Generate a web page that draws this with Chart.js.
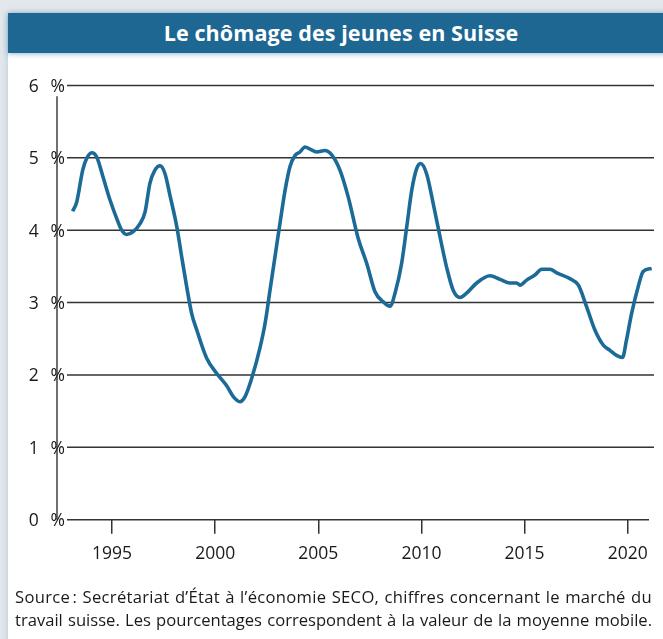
<!DOCTYPE html>
<html>
<head>
<meta charset="utf-8">
<script src="https://cdn.jsdelivr.net/npm/chart.js@4/dist/chart.umd.min.js"></script>
<style>
  html, body { margin: 0; padding: 0; }
  body { width: 663px; height: 639px; background: #e3e8ec; position: relative; overflow: hidden; font-family: "Open Sans", sans-serif; }
  #panel { position: absolute; left: 8px; top: 13px; width: 660px; height: 640px; background: #ffffff; box-shadow: 0 0 7px rgba(140, 175, 200, 0.55); }
  #header { position: absolute; left: 8px; top: 13px; width: 660px; height: 40px; background: #1d6792; box-shadow: 0 1px 5px rgba(29, 103, 146, 0.45); color: #fff; font-weight: 700; font-size: 21.5px; line-height: 40px; text-align: center; box-sizing: border-box; }
  #header span { position: relative; left: 3px; letter-spacing: 0.1px; }
  #chart { position: absolute; left: 0; top: 0; }
  #footer { position: absolute; left: 15px; top: 585px; width: 637px; font-family: "Open Sans", sans-serif; font-size: 16.6px; line-height: 23px; color: #1a1a1a; }
  #footer div { text-align: justify; text-align-last: justify; white-space: nowrap; }
  #footer .l1 { letter-spacing: 0.3px; }
</style>
</head>
<body>
<div id="panel"></div>
<div id="header"><span>Le chômage des jeunes en Suisse</span></div>
<canvas id="chart" width="663" height="639"></canvas>
<div id="footer"><div class="l1">Source&#8239;: Secrétariat d’État à l’économie SECO, chiffres concernant le marché du</div><div>travail suisse. Les pourcentages correspondent à la valeur de la moyenne mobile.</div></div>
<script>
// Youth unemployment rate in Switzerland (%), moving average
const years = [1993.09, 1993.29, 1993.58, 1993.77, 1994.02, 1994.26, 1994.58, 1994.90, 1995.23, 1995.47,
  1995.71, 1996.03, 1996.36, 1996.60, 1996.84, 1997.08, 1997.33, 1997.57, 1997.81, 1998.14,
  1998.38, 1998.62, 1998.86, 1999.11, 1999.59, 2000.08, 2000.56, 2000.88, 2001.20, 2001.45,
  2001.77, 2002.17, 2002.42, 2002.66, 2002.90, 2003.14, 2003.39, 2003.63, 2003.87, 2004.11,
  2004.36, 2004.60, 2004.92, 2005.32, 2005.65, 2006.05, 2006.45, 2006.94, 2007.35, 2007.75,
  2008.15, 2008.48, 2008.72, 2009.04, 2009.29, 2009.53, 2009.77, 2009.96, 2010.25, 2010.57,
  2010.90, 2011.22, 2011.54, 2011.87, 2012.19, 2012.68, 2013.32, 2013.81, 2014.29, 2014.62,
  2014.78, 2015.10, 2015.50, 2015.83, 2016.23, 2016.56, 2017.20, 2017.61, 2018.01, 2018.41,
  2018.82, 2019.14, 2019.46, 2019.75, 2019.94, 2020.19, 2020.51, 2020.75, 2021.16];
const rates = [4.26, 4.39, 4.83, 4.99, 5.07, 5.01, 4.72, 4.42, 4.16, 4.00,
  3.94, 3.98, 4.09, 4.25, 4.65, 4.83, 4.89, 4.78, 4.48, 4.05,
  3.63, 3.22, 2.85, 2.62, 2.23, 2.02, 1.85, 1.70, 1.63, 1.70,
  1.95, 2.37, 2.71, 3.17, 3.63, 4.09, 4.55, 4.88, 5.03, 5.08,
  5.15, 5.12, 5.08, 5.10, 5.04, 4.83, 4.46, 3.88, 3.54, 3.15,
  3.01, 2.95, 3.13, 3.54, 4.05, 4.55, 4.85, 4.92, 4.78, 4.37,
  3.91, 3.49, 3.17, 3.07, 3.13, 3.27, 3.37, 3.32, 3.27, 3.27,
  3.24, 3.31, 3.38, 3.46, 3.46, 3.41, 3.33, 3.24, 2.94, 2.62,
  2.41, 2.34, 2.27, 2.24, 2.48, 2.85, 3.22, 3.43, 3.47];
const yTicks = [0, 1, 2, 3, 4, 5, 6];
const xTicks = [1995, 2000, 2005, 2010, 2015, 2020];

const FONT = "'Open Sans', sans-serif";

const axisLines = {
  id: 'axisLines',
  beforeDatasetsDraw(chart) {
    const { ctx, chartArea, scales } = chart;
    const y = scales.y;
    ctx.save();
    ctx.strokeStyle = '#333';
    ctx.lineWidth = 1.5;
    y.ticks.forEach(t => {
      const py = y.getPixelForValue(t.value);
      ctx.beginPath();
      ctx.moveTo(chartArea.left + 2, py);
      ctx.lineTo(t.value === 0 ? chartArea.right - 5 : chartArea.right, py);
      ctx.stroke();
    });
    ctx.lineWidth = 1.3;
    ctx.strokeStyle = '#222';
    ctx.beginPath();
    ctx.moveTo(chartArea.left - 8, y.getPixelForValue(5.85));
    ctx.lineTo(chartArea.left - 8, y.getPixelForValue(0));
    ctx.stroke();
    ctx.restore();
  }
};

new Chart(document.getElementById('chart'), {
  type: 'line',
  data: {
    datasets: [{
      data: years.map((x, i) => ({ x: x, y: rates[i] })),
      borderColor: '#1b6a98',
      borderWidth: 3.6,
      pointRadius: 0,
      cubicInterpolationMode: 'monotone',
      fill: false
    }]
  },
  options: {
    responsive: false,
    animation: false,
    layout: { padding: { top: 85.4, right: 9, bottom: 639 - 519.7 - 40, left: 0 } },
    plugins: { legend: { display: false }, tooltip: { enabled: false }, title: { display: false } },
    scales: {
      x: {
        type: 'linear',
        min: 1992.7215,
        max: 2021.275,
        afterBuildTicks: s => { s.ticks = xTicks.map(v => ({ value: v })); },
        afterFit: s => { s.height = 40; },
        grid: { drawOnChartArea: false, drawTicks: true, tickLength: 14, color: '#333', lineWidth: 1.5 },
        border: { display: false },
        ticks: { padding: 10, color: '#1a1a1a', font: { family: FONT, size: 17.5 }, maxRotation: 0, callback: v => String(v) }
      },
      y: {
        min: 0,
        max: 6,
        afterBuildTicks: s => { s.ticks = yTicks.map(v => ({ value: v })); },
        afterFit: s => { s.width = 65; },
        grid: { display: false, drawTicks: false },
        border: { display: false },
        ticks: { padding: 0, labelOffset: 1.5, color: '#1a1a1a', font: { family: FONT, size: 17.5 }, callback: v => v + '\u2002\u2009%' }
      }
    }
  },
  plugins: [axisLines]
});
</script>
</body>
</html>
